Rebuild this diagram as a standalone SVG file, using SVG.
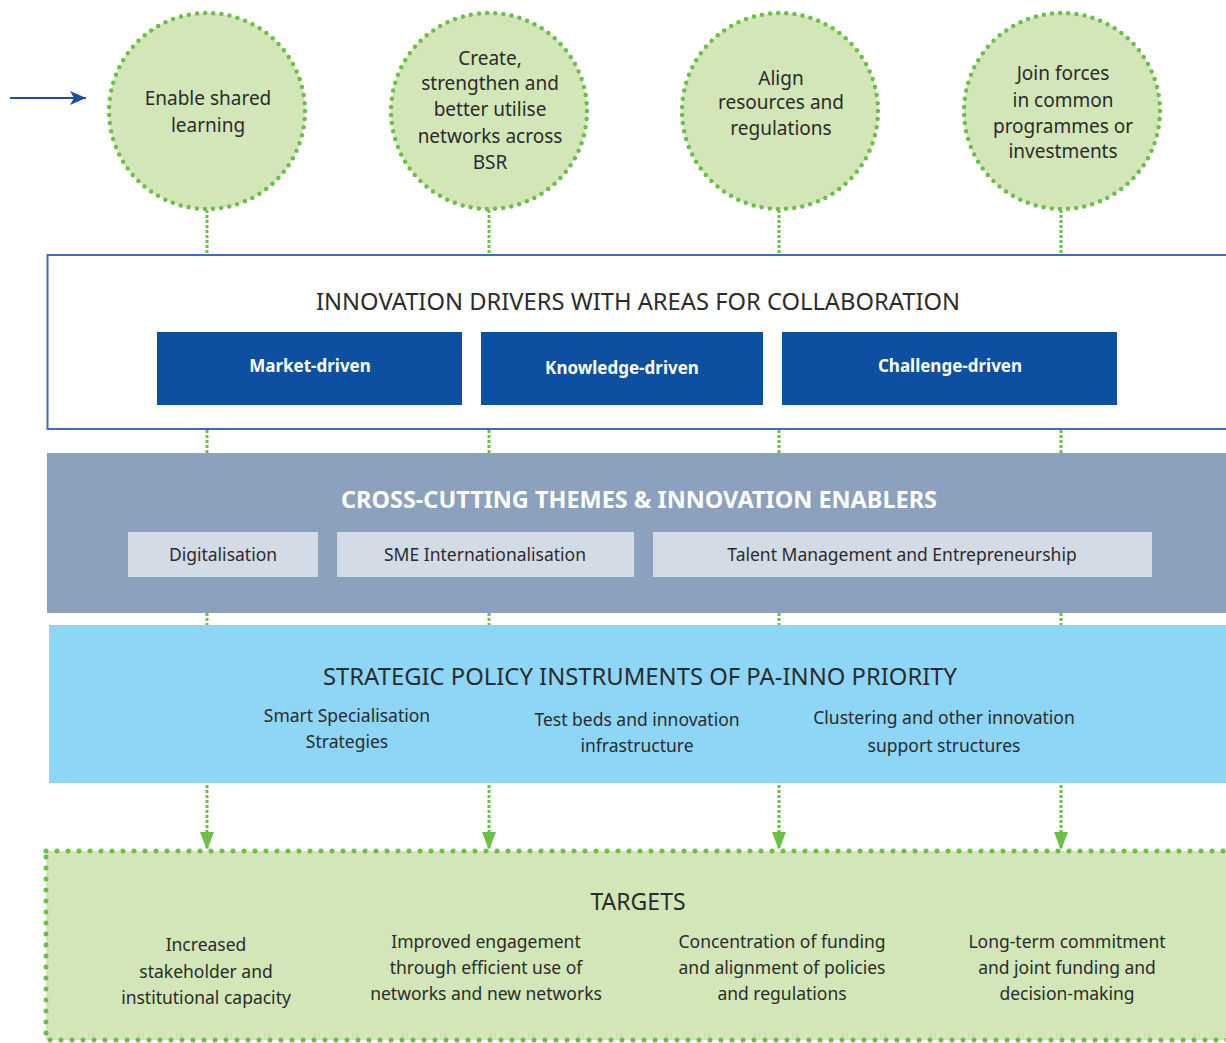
<svg xmlns="http://www.w3.org/2000/svg" width="1226" height="1043" viewBox="0 0 1226 1043">
<defs>
<style>
text{font-family:"Noto Sans","Open Sans",sans-serif;fill:#2b2b2b;text-anchor:middle}
.circ{fill:#d2e6b8;stroke:#6abf45;stroke-width:4.5;stroke-dasharray:0 8.2;stroke-linecap:round}
.ct{font-size:19px}
.drv{fill:#0d4fa1}
.dt{fill:#ffffff;font-weight:bold;font-size:17px}
.sub{fill:#d3dbe7}
.st{font-size:17.5px}
.conn{stroke:#6abf45;stroke-width:3;stroke-dasharray:3 2;fill:none}
.ttl{font-size:23px}
.lt{font-size:17.5px}
</style>
<marker id="ah" viewBox="0 0 18 14" refX="18" refY="7" markerWidth="18" markerHeight="14" markerUnits="userSpaceOnUse" orient="auto">
<path d="M0 0 L18 7 L0 14 Z" fill="#6abf45"/>
</marker>
<marker id="bh" viewBox="0 0 16 14" refX="16" refY="7" markerWidth="16" markerHeight="14" markerUnits="userSpaceOnUse" orient="auto">
<path d="M0 0 L16 7 L0 14 L4 7 Z" fill="#1a4fa0"/>
</marker>
</defs>
<rect width="1226" height="1043" fill="#ffffff"/>

<g id="connectors">
<line x1="10" y1="98" x2="86" y2="98" stroke="#1a4fa0" stroke-width="2" marker-end="url(#bh)"/>
<line class="conn" x1="207" y1="210" x2="207" y2="254"/>
<line class="conn" x1="489" y1="210" x2="489" y2="254"/>
<line class="conn" x1="779" y1="210" x2="779" y2="254"/>
<line class="conn" x1="1061" y1="210" x2="1061" y2="254"/>
<line class="conn" x1="207" y1="430" x2="207" y2="453"/>
<line class="conn" x1="489" y1="430" x2="489" y2="453"/>
<line class="conn" x1="779" y1="430" x2="779" y2="453"/>
<line class="conn" x1="1061" y1="430" x2="1061" y2="453"/>
<line class="conn" x1="207" y1="613" x2="207" y2="625"/>
<line class="conn" x1="489" y1="613" x2="489" y2="625"/>
<line class="conn" x1="779" y1="613" x2="779" y2="625"/>
<line class="conn" x1="1061" y1="613" x2="1061" y2="625"/>
<line class="conn" x1="207" y1="785" x2="207" y2="850" marker-end="url(#ah)"/>
<line class="conn" x1="489" y1="785" x2="489" y2="850" marker-end="url(#ah)"/>
<line class="conn" x1="779" y1="785" x2="779" y2="850" marker-end="url(#ah)"/>
<line class="conn" x1="1061" y1="785" x2="1061" y2="850" marker-end="url(#ah)"/>
</g>

<g id="goal-shared-learning">
<circle class="circ" cx="207" cy="111" r="98"/>
<text class="ct" x="208" y="105">Enable shared</text>
<text class="ct" x="208" y="132">learning</text>
</g>
<g id="goal-networks">
<circle class="circ" cx="489" cy="111" r="98"/>
<text class="ct" x="490" y="65">Create,</text>
<text class="ct" x="490" y="90">strengthen and</text>
<text class="ct" x="490" y="116">better utilise</text>
<text class="ct" x="490" y="143">networks across</text>
<text class="ct" x="490" y="169">BSR</text>
</g>
<g id="goal-align">
<circle class="circ" cx="780" cy="111" r="98"/>
<text class="ct" x="781" y="85">Align</text>
<text class="ct" x="781" y="109">resources and</text>
<text class="ct" x="781" y="135">regulations</text>
</g>
<g id="goal-join">
<circle class="circ" cx="1062" cy="111" r="98"/>
<text class="ct" x="1063" y="80">Join forces</text>
<text class="ct" x="1063" y="107">in common</text>
<text class="ct" x="1063" y="133">programmes or</text>
<text class="ct" x="1063" y="158">investments</text>
</g>

<g id="innovation-drivers">
<rect x="47.5" y="255" width="1190" height="174" fill="#ffffff" stroke="#3a6fc0" stroke-width="2"/>
<text class="ttl" x="638" y="310" textLength="644" lengthAdjust="spacingAndGlyphs">INNOVATION DRIVERS WITH AREAS FOR COLLABORATION</text>
</g>
<g id="market-driven">
<rect class="drv" x="157" y="332" width="305" height="73"/>
<text class="dt" x="310" y="372">Market-driven</text>
</g>
<g id="knowledge-driven">
<rect class="drv" x="481" y="332" width="282" height="73"/>
<text class="dt" x="622" y="374">Knowledge-driven</text>
</g>
<g id="challenge-driven">
<rect class="drv" x="782" y="332" width="335" height="73"/>
<text class="dt" x="950" y="372">Challenge-driven</text>
</g>

<g id="cross-cutting">
<rect x="47" y="453" width="1185" height="160" fill="#8ba1bd"/>
<text x="639" y="508" font-size="23" font-weight="bold" style="fill:#ffffff" textLength="596" lengthAdjust="spacingAndGlyphs">CROSS-CUTTING THEMES &amp; INNOVATION ENABLERS</text>
</g>
<g id="digitalisation">
<rect class="sub" x="128" y="532" width="190" height="45"/>
<text class="st" x="223" y="561">Digitalisation</text>
</g>
<g id="sme">
<rect class="sub" x="337" y="532" width="297" height="45"/>
<text class="st" x="485" y="561">SME Internationalisation</text>
</g>
<g id="talent">
<rect class="sub" x="653" y="532" width="499" height="45"/>
<text class="st" x="902" y="561">Talent Management and Entrepreneurship</text>
</g>

<g id="policy-instruments">
<rect x="49" y="625" width="1185" height="158" fill="#8dd6f6"/>
<text class="ttl" x="640" y="685" textLength="634" lengthAdjust="spacingAndGlyphs">STRATEGIC POLICY INSTRUMENTS OF PA-INNO PRIORITY</text>
<text class="lt" x="347" y="722">Smart Specialisation</text>
<text class="lt" x="347" y="748">Strategies</text>
<text class="lt" x="637" y="726">Test beds and innovation</text>
<text class="lt" x="637" y="752">infrastructure</text>
<text class="lt" x="944" y="724">Clustering and other innovation</text>
<text class="lt" x="944" y="752">support structures</text>
</g>

<g id="targets">
<rect x="46" y="851" width="1200" height="189" fill="#d2e6b8" stroke="#6abf45" stroke-width="5" stroke-dasharray="0 11" stroke-linecap="round"/>
<text class="ttl" x="638" y="910">TARGETS</text>
<text class="lt" x="206" y="951">Increased</text>
<text class="lt" x="206" y="978">stakeholder and</text>
<text class="lt" x="206" y="1004">institutional capacity</text>
<text class="lt" x="486" y="948">Improved engagement</text>
<text class="lt" x="486" y="974">through efficient use of</text>
<text class="lt" x="486" y="1000">networks and new networks</text>
<text class="lt" x="782" y="948">Concentration of  funding</text>
<text class="lt" x="782" y="974">and alignment of  policies</text>
<text class="lt" x="782" y="1000">and regulations</text>
<text class="lt" x="1067" y="948">Long-term commitment</text>
<text class="lt" x="1067" y="974">and joint funding and</text>
<text class="lt" x="1067" y="1000">decision-making</text>
</g>
</svg>
